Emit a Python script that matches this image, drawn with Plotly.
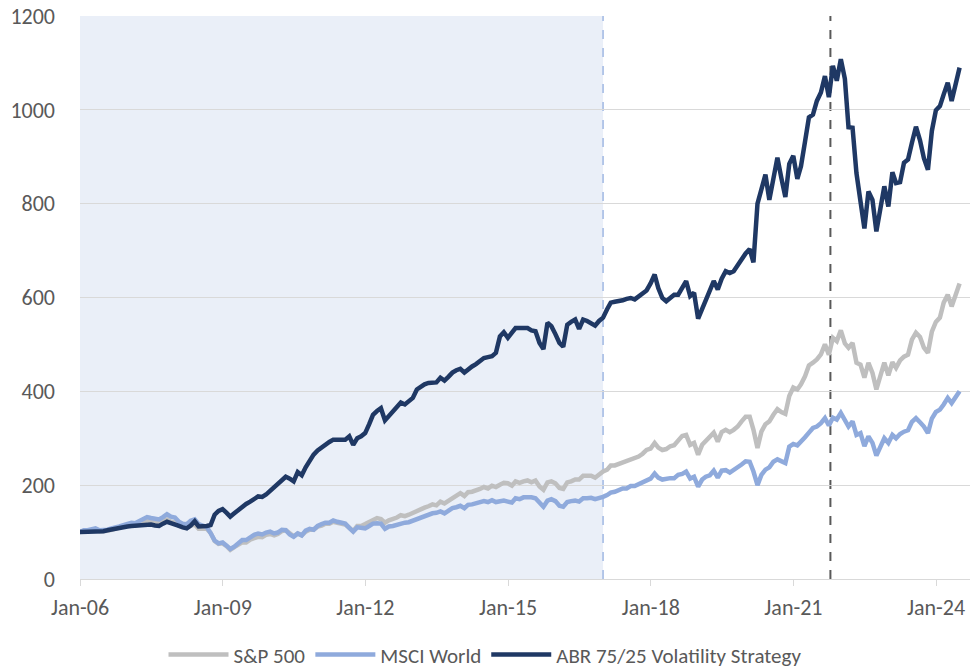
import pandas as pd
import plotly.graph_objects as go

# Month-end observations, starting from the Dec-2005 base (=100)
start_date = "2005-12-31"

sp500 = [
    100,
    103, 103, 104, 105, 102, 102, 103, 105, 108, 111, 113, 115,   # 2006
    117, 114, 116, 121, 125, 123, 119, 121, 125, 127, 122, 121,   # 2007
    113, 110, 109, 114, 116, 107, 106, 107, 98, 81, 75, 76,       # 2008
    70, 62, 68, 74, 78, 78, 84, 87, 90, 89, 94, 96,               # 2009
    93, 96, 102, 104, 96, 91, 97, 93, 101, 105, 105, 112,         # 2010
    114, 118, 118, 122, 120, 118, 116, 109, 102, 113, 113, 117,   # 2011
    122, 126, 130, 128, 120, 125, 127, 131, 136, 134, 137, 141,   # 2012
    147, 149, 152, 155, 159, 157, 165, 161, 166, 173, 178, 183,   # 2013
    177, 185, 186, 188, 192, 196, 193, 199, 196, 201, 205, 204,   # 2014
    199, 208, 205, 208, 210, 206, 210, 197, 190, 206, 208, 204,   # 2015
    194, 192, 206, 208, 212, 212, 220, 220, 220, 216, 224, 229,   # 2016
    233, 242, 242, 245, 248, 250, 255, 256, 261, 267, 275, 278,   # 2017
    290, 280, 275, 277, 283, 285, 296, 305, 307, 286, 290, 265,   # 2018
    286, 295, 306, 312, 293, 313, 318, 313, 318, 325, 336, 346,   # 2019
    346, 318, 279, 314, 330, 336, 350, 362, 356, 352, 390, 408,   # 2020
    404, 415, 432, 455, 461, 468, 479, 500, 478, 514, 507, 530,   # 2021
    502, 493, 503, 461, 457, 429, 461, 439, 404, 435, 461, 434,   # 2022
    462, 450, 466, 474, 478, 510, 525, 516, 493, 482, 527, 548,   # 2023
    557, 589, 606, 581, 606, 630,                                 # 2024
]

msci_world = [
    100,
    104, 104, 106, 108, 104, 104, 105, 108, 109, 112, 115, 118,   # 2006
    120, 119, 123, 128, 132, 130, 128, 127, 132, 138, 133, 131,   # 2007
    122, 118, 117, 124, 127, 117, 114, 111, 98, 82, 76, 78,       # 2008
    71, 64, 69, 76, 83, 83, 90, 94, 97, 95, 99, 101,              # 2009
    97, 99, 105, 104, 95, 90, 97, 93, 103, 107, 105, 113,         # 2010
    117, 120, 120, 125, 122, 120, 118, 109, 101, 110, 108, 108,   # 2011
    113, 118, 119, 118, 107, 112, 113, 116, 119, 120, 121, 124,   # 2012
    129, 131, 133, 137, 140, 141, 144, 140, 146, 151, 153, 156,   # 2013
    151, 158, 159, 161, 163, 166, 164, 168, 164, 165, 167, 165,   # 2014
    163, 172, 170, 174, 175, 174, 172, 163, 154, 167, 170, 166,   # 2015
    156, 154, 164, 166, 167, 165, 172, 172, 173, 170, 172, 175,   # 2016
    179, 184, 186, 189, 193, 193, 198, 198, 202, 207, 211, 214,   # 2017
    225, 216, 212, 214, 215, 215, 222, 224, 229, 214, 218, 197,   # 2018
    212, 218, 221, 231, 216, 231, 232, 227, 232, 238, 244, 251,   # 2019
    250, 229, 200, 222, 233, 238, 250, 255, 252, 247, 282, 288,   # 2020
    285, 292, 302, 312, 322, 325, 332, 343, 327, 344, 340, 354,   # 2021
    338, 325, 336, 307, 311, 283, 304, 290, 263, 282, 300, 290,   # 2022
    307, 300, 309, 314, 317, 335, 343, 334, 325, 311, 342, 356,   # 2023
    361, 372, 386, 375, 390, 400,                                 # 2024
]

abr_strategy = [
    100,
    100, 101, 101, 100, 101, 102, 104, 106, 108, 109, 110, 112,   # 2006
    113, 114, 115, 116, 117, 116, 114, 113, 118, 122, 119, 117,   # 2007
    113, 110, 108, 114, 123, 112, 112, 113, 115, 137, 145, 149,   # 2008
    141, 133, 140, 147, 154, 160, 165, 170, 176, 175, 180, 188,   # 2009
    196, 205, 213, 218, 214, 208, 228, 221, 238, 253, 265, 274,   # 2010
    281, 287, 292, 297, 298, 297, 297, 304, 286, 300, 304, 311,   # 2011
    330, 350, 358, 364, 338, 348, 357, 366, 376, 372, 379, 386,   # 2012
    404, 410, 415, 418, 419, 419, 429, 423, 431, 440, 445, 448,   # 2013
    440, 447, 453, 458, 465, 471, 473, 475, 482, 517, 526, 514,   # 2014
    525, 535, 535, 536, 535, 530, 528, 503, 490, 546, 539, 522,   # 2015
    503, 495, 542, 548, 553, 533, 553, 550, 546, 540, 550, 557,   # 2016
    575, 589, 591, 592, 594, 597, 599, 596, 603, 608, 615, 630,   # 2017
    649, 620, 599, 592, 600, 606, 606, 620, 635, 603, 610, 555,   # 2018
    575, 596, 615, 635, 617, 640, 656, 652, 656, 670, 682, 694,   # 2019
    703, 675, 800, 830, 862, 808, 855, 898, 855, 814, 885, 902,   # 2020
    853, 880, 932, 984, 990, 1019, 1037, 1072, 1027, 1094, 1062, 1108,  # 2021
    1066, 963, 962, 865, 805, 747, 826, 808, 741, 790, 837, 794,  # 2022
    867, 844, 846, 887, 894, 930, 964, 935, 897, 872, 955, 999,   # 2023
    1008, 1033, 1058, 1019, 1055, 1090,                           # 2024
]

series_names = ["S&P 500", "MSCI World", "ABR 75/25 Volatility Strategy"]
series_colors = ["#BFBFBF", "#8FAADC", "#1F3864"]

# Reference dates for annotations
x_axis_start = "2006-01-01"
x_axis_end = "2024-09-18"
in_sample_end = "2016-12-31"
marker_date = "2021-10-12"

dates = pd.date_range(start_date, periods=len(abr_strategy), freq="ME")

FONT = "Liberation Sans Narrow, Carlito, Open Sans, sans-serif"
TXT = "#595959"

fig = go.Figure()
for name, vals, col in zip(series_names, [sp500, msci_world, abr_strategy], series_colors):
    fig.add_trace(go.Scatter(
        x=dates, y=vals, name=name, mode="lines",
        line=dict(color=col, width=4.5),
        hoverinfo="skip",
    ))

fig.add_shape(type="rect", xref="x", yref="paper", x0=x_axis_start, x1=in_sample_end,
              y0=0, y1=1, fillcolor="#EAEFF8", line=dict(width=0), layer="below")
fig.add_shape(type="line", xref="x", yref="paper", x0=in_sample_end, x1=in_sample_end,
              y0=0, y1=1, line=dict(color="#9FB8E3", width=1.5, dash="dash"), layer="below")
fig.add_shape(type="line", xref="x", yref="paper", x0=marker_date, x1=marker_date,
              y0=0, y1=1, line=dict(color="#595959", width=2, dash="dash"), layer="below")

fig.update_layout(
    width=970, height=671,
    margin=dict(l=80, r=0, t=16, b=92, autoexpand=False),
    plot_bgcolor="white", paper_bgcolor="white",
    font=dict(family=FONT, size=22, color=TXT),
    showlegend=True,
    legend=dict(orientation="h", x=0.5, xanchor="center", xref="container",
                y=0.024, yanchor="middle", yref="container",
                font=dict(family=FONT, size=21, color=TXT), traceorder="normal",
                itemwidth=60, bgcolor="rgba(0,0,0,0)"),
    xaxis=dict(type="date", range=[x_axis_start, x_axis_end], tick0="2006-01-01",
               dtick="M36", tickformat="%b-%y", ticks="outside", ticklen=6,
               tickcolor="#D9D9D9", showline=True, linecolor="#D9D9D9", linewidth=1,
               showgrid=False, zeroline=False, ticklabelstandoff=3, automargin=False,
               tickfont=dict(family=FONT, size=22, color=TXT)),
    yaxis=dict(range=[0, 1200], dtick=200, showgrid=True, gridcolor="#D9D9D9",
               gridwidth=1, zeroline=False, showline=False, ticklabelstandoff=24,
               automargin=False, tickfont=dict(family=FONT, size=22, color=TXT)),
)

fig.write_html(
    "out.html",
    config={"displayModeBar": False},
    post_script="document.body.style.margin='0';document.body.style.padding='0';",
)
